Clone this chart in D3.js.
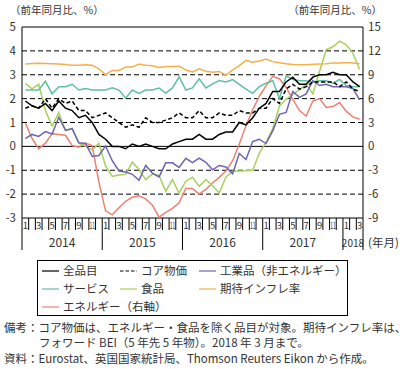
<!DOCTYPE html>
<html><head><meta charset="utf-8">
<script src="https://cdn.jsdelivr.net/npm/d3@7"></script>
<style>
body{margin:0;background:#fff;}
svg text{font-family:"Noto Sans CJK JP","Noto Sans",sans-serif;fill:#333;}
</style></head><body>
<svg id="c" width="407" height="369"></svg>
<script>
// ---- data ----
const months = d3.range(51).map(i => ({year: 2014 + Math.floor(i / 12), month: i % 12 + 1}));
const years = ["2014", "2015", "2016", "2017", "2018"];
const leftTicks = [-3, -2, -1, 0, 1, 2, 3, 4, 5];
const rightTicks = [-9, -6, -3, 0, 3, 6, 9, 12, 15];
const monthLabels = [1, 3, 5, 7, 9, 11];

const allItems = [1.9,1.7,1.6,1.8,1.5,1.9,1.6,1.5,1.2,1.3,1.0,0.5, 0.3,0.0,0.0,-0.1,0.1,0.0,0.1,0.0,-0.1,-0.1,0.1,0.2, 0.3,0.3,0.5,0.3,0.3,0.5,0.6,0.6,1.0,0.9,1.2,1.6, 1.8,2.3,2.3,2.7,2.9,2.6,2.6,2.9,3.0,3.0,3.1,3.0, 3.0,2.7,2.5];
const core = [1.6,1.7,1.6,2.0,1.6,2.0,1.8,1.9,1.5,1.5,1.2,1.3, 1.4,1.2,1.0,0.8,0.9,0.8,1.2,1.0,1.0,1.1,1.2,1.4, 1.2,1.2,1.5,1.2,1.2,1.4,1.3,1.3,1.5,1.4,1.4,1.6, 1.6,2.0,1.8,2.4,2.6,2.4,2.5,2.7,2.7,2.7,2.7,2.5, 2.7,2.4,2.3];
const industrial = [0.32,0.5,0.42,0.62,0.52,1.22,0.68,0.74,0.15,0.12,-0.42,-0.38, 0.02,-0.6,-1.03,-1.07,-1.17,-1.42,-0.8,-1.12,-1.28,-0.69,-0.69,-0.88, -0.5,-0.68,-0.49,-0.67,-0.98,-0.8,-0.86,-1.15,-0.3,-0.55,0.2,0.3, 0.12,0.65,1.34,1.42,2.3,2.05,2.2,2.75,2.55,2.6,2.5,2.5, 2.5,2.42,1.95];
const services = [2.36,2.36,2.36,2.73,2.2,2.5,2.5,2.6,2.36,2.42,2.36,2.36, 2.36,2.45,2.36,2.02,2.36,2.22,2.36,2.36,2.44,2.23,2.45,2.91, 2.36,2.45,2.83,2.45,2.62,2.76,2.7,2.8,2.6,2.4,2.22,2.5, 2.65,2.75,2.0,2.95,2.8,2.75,2.75,2.7,2.75,2.75,2.65,2.8, 2.55,2.5,2.5];
const food = [2.64,2.41,2.6,1.5,0.85,1.41,0.65,0.75,0.13,0.0,-0.15,0.13, -0.83,-1.26,-1.2,-1.17,-0.66,-0.97,-1.39,-1.16,-1.22,-1.88,-1.39,-1.96, -1.46,-1.29,-1.67,-1.39,-1.65,-1.95,-1.28,-1.04,-1.03,-1.02,-1.0,-0.28, 0.17,0.75,1.69,1.97,2.18,2.38,2.6,2.2,3.15,4.06,4.17,4.41, 4.25,3.9,3.22];
const expected = [3.45,3.47,3.48,3.47,3.46,3.45,3.43,3.40,3.40,3.42,3.40,3.25, 3.00,3.18,3.18,3.32,3.32,3.45,3.40,3.38,3.30,3.35,3.35,3.36, 3.20,3.12,3.25,3.15,3.10,3.14,2.98,3.20,3.38,3.60,3.52,3.58, 3.66,3.55,3.50,3.46,3.43,3.42,3.42,3.44,3.45,3.46,3.49,3.49, 3.51,3.49,3.46];
const energy = [2.9,1.0,-0.3,0.4,1.6,1.5,1.4,0.1,-0.1,0.4,0.1,-4.5, -8.1,-8.6,-7.7,-6.9,-6.4,-6.2,-6.6,-7.4,-8.9,-8.3,-7.8,-7.1, -5.3,-5.3,-6.0,-5.4,-4.6,-3.9,-3.1,-1.8,0.3,2.6,4.6,6.3, 7.6,8.8,8.5,7.4,5.9,4.5,3.8,5.7,6.0,4.9,5.0,5.5, 4.4,3.7,3.4];

const seriesNames = ["全品目", "コア物価", "工業品（非エネルギー）", "サービス", "食品", "期待インフレ率", "エネルギー（右軸）"];

// ---- styles ----
const colors = ["#000000", "#000000", "#6d64b4", "#5fc09e", "#a8d05c", "#f6b04b", "#ee8172"];
const dashes = [null, "4,2.5", null, null, null, null, null];

const svg = d3.select("#c");
const L = 22, R = 363, T = 27, B = 218;
const x = d3.scaleBand().domain(d3.range(months.length)).range([L, R]);
const y = d3.scaleLinear().domain([-3, 5]).range([B, T]);
const yR = d3.scaleLinear().domain([-9, 15]).range([B, T]);
const cx = i => x(i) + x.bandwidth() / 2;

// grid
svg.append("g").selectAll("line").data(leftTicks.filter(t => t !== -3 && t !== 5 && t !== 0)).join("line")
  .attr("x1", L).attr("x2", R).attr("y1", d => y(d)).attr("y2", d => y(d))
  .attr("stroke", "#000").attr("stroke-width", 1).attr("stroke-dasharray", "5,3");
svg.append("line").attr("x1", L).attr("x2", R).attr("y1", y(0)).attr("y2", y(0)).attr("stroke", "#000");
// frame
svg.append("line").attr("x1", L).attr("x2", R).attr("y1", y(5)).attr("y2", y(5)).attr("stroke", "#000");
svg.append("line").attr("x1", L).attr("x2", R).attr("y1", y(-3)).attr("y2", y(-3)).attr("stroke", "#000");
svg.append("line").attr("x1", L).attr("x2", L).attr("y1", T).attr("y2", B + 32).attr("stroke", "#000");
svg.append("line").attr("x1", R).attr("x2", R).attr("y1", T).attr("y2", B + 32).attr("stroke", "#000");

// y axis labels
svg.append("g").selectAll("text").data(leftTicks).join("text")
  .attr("x", 16).attr("y", d => y(d)).attr("dy", "0.35em").attr("text-anchor", "end")
  .attr("font-size", 11.5).text(d => d);
svg.append("g").selectAll("text").data(rightTicks).join("text")
  .attr("x", 368).attr("y", d => yR(d)).attr("dy", "0.35em").attr("text-anchor", "start")
  .attr("font-size", 11.5).text(d => d);

svg.append("text").attr("x", 10).attr("y", 14).attr("font-size", 10.5).text("（前年同月比、%）");
svg.append("text").attr("x", 382).attr("y", 14).attr("text-anchor", "end").attr("font-size", 10.5).text("（前年同月比、%）");

// x axis: month ticks
svg.append("g").selectAll("line").data(d3.range(1, months.length)).join("line")
  .attr("x1", d => x(d)).attr("x2", d => x(d))
  .attr("y1", B).attr("y2", d => d % 12 === 0 ? B + 32 : B + 12)
  .attr("stroke", "#000").attr("stroke-width", 1);
svg.append("g").selectAll("text").data(months.map((m, i) => ({m, i})).filter(d => monthLabels.includes(d.m.month))).join("text")
  .attr("x", d => cx(d.i)).attr("y", B + 11).attr("text-anchor", "middle")
  .attr("font-size", 9.5)
  .attr("textLength", d => d.m.month >= 10 ? 5.5 : null)
  .attr("lengthAdjust", "spacingAndGlyphs")
  .text(d => d.m.month);
svg.append("g").selectAll("text").data(years).join("text")
  .attr("x", (d, k) => { const s = k * 12, e = Math.min(k * 12 + 12, months.length); return (x(s) + x(e - 1) + x.bandwidth()) / 2; })
  .attr("y", B + 29).attr("text-anchor", "middle")
  .attr("font-size", d => d === "2018" ? 10 : 12)
  .text(d => d);
svg.append("text").attr("x", 368).attr("y", B + 29).attr("font-size", 11.5).text("(年月)");

// lines
const allSeries = [allItems, core, industrial, services, food, expected, energy];
const order = [6, 4, 5, 3, 2, 1, 0];
order.forEach(k => {
  const sc = k === 6 ? yR : y;
  const line = d3.line().x((d, i) => cx(i)).y(d => sc(d));
  svg.append("path").datum(allSeries[k]).attr("d", line)
    .attr("fill", "none").attr("stroke", colors[k]).attr("stroke-width", 1.5)
    .attr("stroke-dasharray", dashes[k]);
});

// legend
const lg = svg.append("g");
lg.append("rect").attr("x", 37.5).attr("y", 260.5).attr("width", 310).attr("height", 55)
  .attr("fill", "none").attr("stroke", "#000");
const legPos = [[42, 0], [120, 0], [199, 0], [42, 1], [120, 1], [199, 1], [42, 2]];
seriesNames.forEach((n, k) => {
  const [lx, row] = legPos[k];
  const ly = 271 + row * 18;
  lg.append("line").attr("x1", lx).attr("x2", lx + 17).attr("y1", ly).attr("y2", ly)
    .attr("stroke", colors[k]).attr("stroke-width", 1.2).attr("stroke-dasharray", k === 1 ? "3.5,2" : null);
  lg.append("text").attr("x", lx + 21).attr("y", ly).attr("dy", "0.36em").attr("font-size", 11.5).text(n);
});

// notes
svg.append("text").attr("x", 4).attr("y", 332).attr("font-size", 11.5).text("備考：コア物価は、エネルギー・食品を除く品目が対象。期待インフレ率は、");
svg.append("text").attr("x", 39).attr("y", 347).attr("font-size", 11.5).text("フォワード BEI（5 年先 5 年物）。2018 年 3 月まで。");
svg.append("text").attr("x", 4).attr("y", 363).attr("font-size", 11.5).text("資料：Eurostat、英国国家統計局、Thomson Reuters Eikon から作成。");
</script>
</body></html>
